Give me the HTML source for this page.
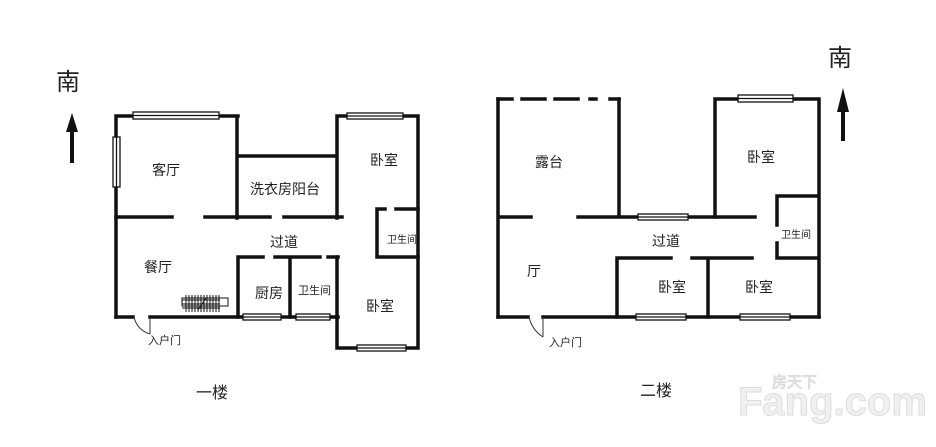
<!DOCTYPE html>
<html><head><meta charset="utf-8"><style>
html,body{margin:0;padding:0;background:#fff;}
svg text{font-family:"Liberation Sans","Noto Sans CJK SC",sans-serif;fill:#222;}
</style></head><body>
<svg width="936" height="442" viewBox="0 0 936 442" xmlns="http://www.w3.org/2000/svg">
<g stroke="#111" stroke-width="3.5" fill="none" stroke-linecap="square">
<!-- Floor 1 -->
<path d="M116 116 H238 M116 116 V317 M237 116 V218 M237 156 H336 M337 116 H418 V348 H337 V257 M337 116 V218"/>
<path d="M116 217 H172 M205 217 H270 M284 217 H342"/>
<path d="M377 209 H385 M396 209 H418 M377 209 V257 H418"/>
<path d="M238 257 H263 M275 257 H320 M328 257 H338 M238 257 V317 M290 257 V317"/>
<path d="M116 317 H133 M150 317 H338"/>
<!-- Floor 2 -->
<path d="M498 99 V317 M619 99 V217 M498 217 H531 M578 217 H755"/>
<path d="M715 99 V217 M715 99 H819 V317 M777 196 H819 M777 196 V225 M777 243 V258 H819"/>
<path d="M617 258 H671 M692 258 H752 M617 258 V317 M708 258 V317"/>
<path d="M498 317 H528 M543 317 H819"/>
<path d="M498 99 H512 M522 99 H545 M555 99 H578 M590 99 H596 M610 99 H619" />
</g>
<!-- windows -->
<g fill="#fff" stroke="#111" stroke-width="1.3">
<rect x="133" y="112" width="86" height="7"/><line x1="133" y1="115.5" x2="219" y2="115.5"/>
<rect x="113" y="137" width="7" height="50"/><line x1="116.5" y1="137" x2="116.5" y2="187"/>
<rect x="347" y="113" width="56" height="6"/><line x1="347" y1="116" x2="403" y2="116"/>
<rect x="243" y="314" width="38" height="6"/><line x1="243" y1="317" x2="281" y2="317"/>
<rect x="296" y="314" width="34" height="6"/><line x1="296" y1="317" x2="330" y2="317"/>
<rect x="357" y="345" width="49" height="6"/><line x1="357" y1="348" x2="406" y2="348"/>
<rect x="638" y="214" width="50" height="6"/><line x1="638" y1="217" x2="688" y2="217"/>
<rect x="738" y="95" width="55" height="7"/><line x1="738" y1="98.5" x2="793" y2="98.5"/>
<rect x="636" y="314" width="50" height="6"/><line x1="636" y1="317" x2="686" y2="317"/>
<rect x="740" y="314" width="50" height="6"/><line x1="740" y1="317" x2="790" y2="317"/>
</g>
<!-- doors -->
<g stroke="#333" stroke-width="1" fill="none">
<path d="M134 317 Q137 330 150 334 M150 317 V334"/>
<path d="M529 317 Q532 330 543 337 M543 317 V337"/>
</g>
<!-- stairs -->
<g stroke="#111" stroke-width="1">
<rect x="182" y="298" width="46" height="8" fill="none"/>
<path d="M186 295V312 M189 295V312 M192 295V312 M195 295V312 M198 295V312 M201 295V312 M204 295V312 M207 295V312 M210 295V312 M213 295V312 M216 295V312 M219 295V312 M182 300H220 M182 304H220 M182 308H220 M198 310 L206 298"/>
</g>
<!-- compass arrows -->
<path d="M72 113 L66 132 H70 V163 H74 V132 H78 Z" fill="#111"/>
<path d="M843 88 L837 112 H841 V141 H845 V112 H849 Z" fill="#111"/>
<g font-size="24"><text x="56" y="90">南</text><text x="828" y="66">南</text></g>
<g font-size="14">
<text x="152" y="175">客厅</text><text x="250" y="194">洗衣房阳台</text><text x="370" y="165">卧室</text>
<text x="270" y="247">过道</text><text x="144" y="272">餐厅</text><text x="255" y="298">厨房</text>
<text x="366" y="311">卧室</text>
<text x="535" y="167">露台</text><text x="747" y="162">卧室</text><text x="652" y="246">过道</text>
<text x="527" y="276">厅</text><text x="658" y="292">卧室</text><text x="745" y="292">卧室</text>
<text x="196" y="398" font-size="16">一楼</text><text x="640" y="396" font-size="16">二楼</text>
</g>
<g font-size="11"><text x="298" y="294">卫生间</text><text x="148" y="344">入户门</text><text x="549" y="346">入户门</text></g>
<g font-size="10"><text x="387" y="243">卫生间</text><text x="781" y="238">卫生间</text></g>
<g fill="#eee" stroke="#ddd" stroke-width="1">
<text x="738" y="415" font-size="40" font-weight="bold" style="fill:#f0f0f0">Fang.com</text>
<text x="772" y="387" font-size="15" style="fill:#f0f0f0">房天下</text>
</g>
</svg>
</body></html>
